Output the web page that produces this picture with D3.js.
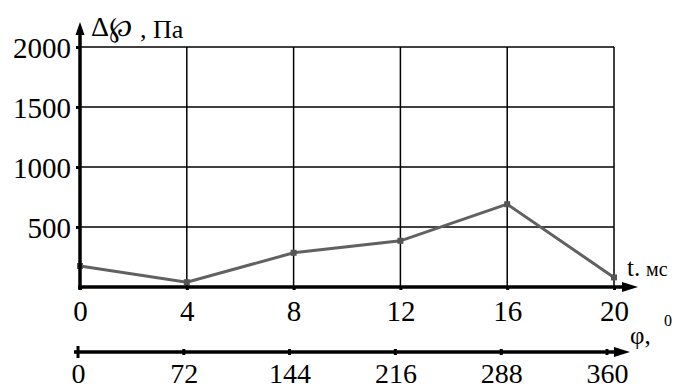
<!DOCTYPE html>
<html>
<head>
<meta charset="utf-8">
<script src="https://cdn.jsdelivr.net/npm/d3@7"></script>
<style>
  html, body { margin: 0; padding: 0; background: #fff; }
  svg { display: block; }
</style>
</head>
<body>
<svg id="chart" width="681" height="392"></svg>
<script>
// Pressure pulsation over one cycle
const timeTicks = [0, 4, 8, 12, 16, 20];          // t, мс
const angleTicks = [0, 72, 144, 216, 288, 360];   // φ, °
const pressureTicks = [500, 1000, 1500, 2000];    // Δ℘, Па
const pressureValues = [175, 40, 285, 385, 690, 80];

const serif = "'Liberation Serif', 'Times New Roman', Times, serif";
const svg = d3.select("#chart").attr("font-family", serif);

const x = d3.scaleLinear().domain([0, 20]).range([80, 614]);
const xPhi = d3.scaleLinear().domain([0, 360]).range([78, 607]);
const y = d3.scaleLinear().domain([0, 2000]).range([287, 47]);

const fontSize = 29;

// grid
svg.append("g").selectAll("line")
  .data(timeTicks.filter(d => d > 0))
  .join("line")
  .attr("x1", d => x(d)).attr("x2", d => x(d))
  .attr("y1", y(2000)).attr("y2", y(0))
  .attr("stroke", "#000").attr("stroke-width", 1.5);

svg.append("g").selectAll("line")
  .data(pressureTicks)
  .join("line")
  .attr("x1", x(0)).attr("x2", x(20))
  .attr("y1", d => y(d)).attr("y2", d => y(d))
  .attr("stroke", "#000").attr("stroke-width", 1.5);

// data line
const line = d3.line().x((d, i) => x(timeTicks[i])).y(d => y(d));
svg.append("path")
  .datum(pressureValues)
  .attr("d", line)
  .attr("fill", "none")
  .attr("stroke", "#616161")
  .attr("stroke-width", 3);

svg.append("g").selectAll("rect")
  .data(pressureValues)
  .join("rect")
  .attr("x", (d, i) => x(timeTicks[i]) - 3)
  .attr("y", d => y(d) - 3)
  .attr("width", 6).attr("height", 6)
  .attr("fill", "#555");

// y axis
const yAxis = d3.axisLeft(y).tickValues(pressureTicks).tickSize(4).tickFormat(d3.format("d"));
const gy = svg.append("g").attr("transform", `translate(${x(0)},0)`).call(yAxis)
  .attr("font-family", serif).attr("font-size", fontSize);
gy.select(".domain").remove();
gy.selectAll(".tick line").attr("stroke-width", 3);
gy.selectAll(".tick text")
  .attr("x", -9)
  .attr("dy", "0.35em");

svg.append("line")
  .attr("x1", x(0)).attr("x2", x(0))
  .attr("y1", y(0) + 3).attr("y2", 32)
  .attr("stroke", "#000").attr("stroke-width", 3.5);
svg.append("path")
  .attr("d", `M${x(0)},22 L${x(0) - 4.5},35 L${x(0) + 4.5},35 Z`)
  .attr("fill", "#000");

// t axis
const xAxis = d3.axisBottom(x).tickValues(timeTicks).tickSize(3);
const gx = svg.append("g").attr("transform", `translate(0,${y(0)})`).call(xAxis)
  .attr("font-family", serif).attr("font-size", fontSize);
gx.select(".domain").remove();
gx.selectAll(".tick line").attr("stroke-width", 3);
gx.selectAll(".tick text")
  .attr("y", 13)
  .attr("dy", "0.71em");

svg.append("line")
  .attr("x1", x(0) - 2).attr("x2", 628)
  .attr("y1", y(0)).attr("y2", y(0))
  .attr("stroke", "#000").attr("stroke-width", 3.5);
svg.append("path")
  .attr("d", `M638,${y(0)} L622,${y(0) - 5} L622,${y(0) + 5} Z`)
  .attr("fill", "#000");

// φ axis
const phiY = 352;
const phiAxis = d3.axisBottom(xPhi).tickValues(angleTicks).tickSize(0);
const gp = svg.append("g").attr("transform", `translate(0,${phiY})`).call(phiAxis)
  .attr("font-family", serif).attr("font-size", 28);
gp.select(".domain").remove();
gp.selectAll(".tick text")
  .attr("y", 11)
  .attr("dy", "0.71em");

svg.append("line")
  .attr("x1", 74).attr("x2", 620)
  .attr("y1", phiY).attr("y2", phiY)
  .attr("stroke", "#000").attr("stroke-width", 3.5);
svg.append("g").selectAll("line")
  .data(angleTicks)
  .join("line")
  .attr("x1", d => xPhi(d)).attr("x2", d => xPhi(d))
  .attr("y1", d => phiY - (d === 0 ? 6 : 3))
  .attr("y2", d => phiY + (d === 0 ? 6 : 3))
  .attr("stroke", "#000").attr("stroke-width", 3);
svg.append("path")
  .attr("d", `M630,${phiY} L614,${phiY - 5} L614,${phiY + 5} Z`)
  .attr("fill", "#000");

// axis titles
svg.append("text")
  .attr("x", 91).attr("y", 36)
  .attr("font-size", 28)
  .text("Δ℘");
svg.append("text")
  .attr("x", 140).attr("y", 38)
  .attr("font-size", 26)
  .text(", Па");

svg.append("text")
  .attr("x", 627).attr("y", 276)
  .attr("font-size", 25)
  .text("t.");
svg.append("text")
  .attr("x", 646).attr("y", 276)
  .attr("font-size", 20)
  .text("мс");

svg.append("text")
  .attr("x", 630).attr("y", 344)
  .attr("font-size", 25)
  .text("φ,");
svg.append("text")
  .attr("x", 664).attr("y", 326)
  .attr("font-size", 16)
  .text("0");
</script>
</body>
</html>
